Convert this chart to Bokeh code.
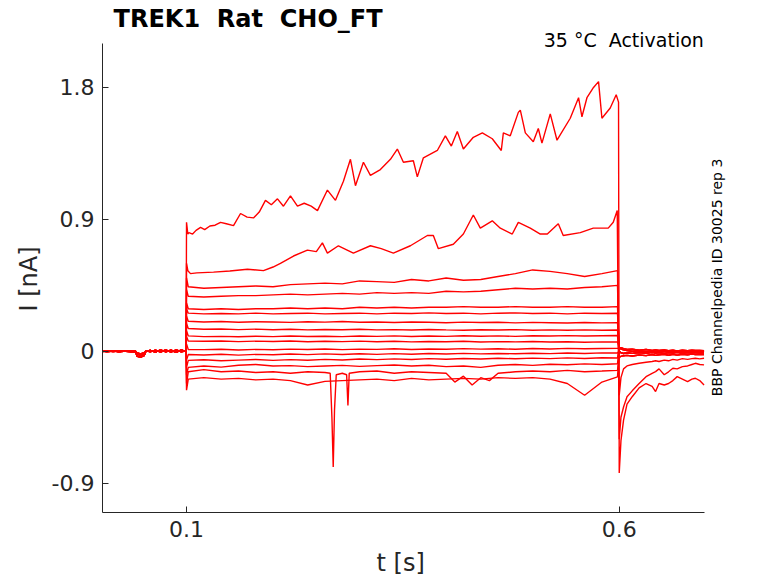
from math import pi

from bokeh.plotting import figure
from bokeh.models import ColumnDataSource, FixedTicker, Label, Range1d, Title
from bokeh.embed import file_html
from bokeh.resources import INLINE

# ---- sweeps of the activation protocol (t in s, I in nA) ----

# holding period before the step, three noise variants
PRE_T = [0.0029, 0.008, 0.015, 0.022, 0.03, 0.036, 0.041, 0.043, 0.047, 0.051,
         0.053, 0.058, 0.064, 0.07, 0.076, 0.082, 0.088, 0.094, 0.0995]
BASE_A = [0.0, 0.003, -0.002, 0.002, 0.0, -0.003, -0.002, -0.035, -0.04, -0.03,
          0.0, 0.005, -0.003, 0.006, -0.002, 0.008, -0.004, 0.006, 0.0]
BASE_B = [0.002, -0.003, 0.002, -0.002, 0.003, 0.0, 0.002, -0.02, -0.03, -0.022,
          0.004, -0.004, 0.008, -0.005, 0.01, -0.006, 0.009, -0.003, 0.004]
BASE_C = [-0.002, 0.001, 0.003, -0.003, 0.001, 0.002, -0.003, -0.012, -0.018, -0.01,
          -0.002, 0.006, -0.006, 0.01, -0.004, 0.006, -0.008, 0.01, -0.002]

# largest sweep
TOP_T = [0.1, 0.1015, 0.1027, 0.107, 0.111, 0.1162, 0.121, 0.127, 0.133, 0.1393,
         0.146, 0.1543, 0.1624, 0.17, 0.1774, 0.184, 0.1912, 0.198, 0.2051, 0.212,
         0.2201, 0.2282, 0.236, 0.244, 0.2513, 0.2628, 0.2721, 0.2813, 0.2894, 0.2952,
         0.3044, 0.3125, 0.324, 0.3356, 0.3436, 0.3506, 0.3621, 0.3667, 0.3737, 0.3898,
         0.3991, 0.406, 0.4129, 0.4199, 0.4314, 0.4418, 0.4533, 0.4637, 0.4661, 0.4741,
         0.4834, 0.4857, 0.4915, 0.5007, 0.5065, 0.5107, 0.5203, 0.5281, 0.5434, 0.553,
         0.5569, 0.5627, 0.5703, 0.5761, 0.58, 0.5896, 0.5965, 0.5992]
TOP_I = [0.88, 0.8, 0.81, 0.8, 0.825, 0.845, 0.83, 0.855, 0.86, 0.88,
         0.87, 0.857, 0.94, 0.915, 0.91, 0.95, 1.03, 1.0, 1.04, 0.99,
         1.06, 0.99, 1.01, 0.99, 0.96, 1.1, 1.03, 1.16, 1.31, 1.13,
         1.29, 1.2, 1.24, 1.31, 1.38, 1.29, 1.3, 1.19, 1.32, 1.37,
         1.47, 1.4, 1.5, 1.38, 1.46, 1.49, 1.45, 1.37, 1.49, 1.47,
         1.63, 1.645, 1.49, 1.43, 1.52, 1.42, 1.62, 1.44, 1.59, 1.73,
         1.6, 1.73, 1.8, 1.84, 1.59, 1.66, 1.75, 1.7]

# second largest sweep
SECOND_T = [0.1, 0.1015, 0.1046, 0.112, 0.1312, 0.15, 0.1704, 0.1889, 0.2, 0.2085,
            0.2236, 0.2397, 0.25, 0.257, 0.2628, 0.2755, 0.2928, 0.3125, 0.325, 0.339,
            0.3587, 0.3783, 0.3852, 0.391, 0.4083, 0.4199, 0.4314, 0.4395, 0.4533, 0.4626,
            0.4764, 0.4834, 0.4972, 0.5088, 0.5169, 0.5296, 0.5353, 0.555, 0.57, 0.5873,
            0.5931, 0.5977]
SECOND_I = [0.6, 0.55, 0.53, 0.535, 0.54, 0.548, 0.56, 0.55, 0.575, 0.6,
            0.65, 0.69, 0.68, 0.74, 0.67, 0.72, 0.67, 0.72, 0.7, 0.67,
            0.72, 0.79, 0.79, 0.7, 0.73, 0.8, 0.93, 0.84, 0.89, 0.84,
            0.8, 0.88, 0.84, 0.8, 0.8, 0.87, 0.79, 0.81, 0.84, 0.84,
            0.88, 0.96]

# the smaller sweeps share one time grid during the step
STEP_T = [0.1, 0.102, 0.12, 0.14, 0.16, 0.18, 0.2, 0.22, 0.24, 0.26, 0.28, 0.3, 0.32,
          0.34, 0.36, 0.38, 0.4, 0.42, 0.44, 0.46, 0.48, 0.5, 0.52, 0.54, 0.56, 0.58, 0.598]
STEP_03 = [0.5, 0.44, 0.43, 0.435, 0.44, 0.445, 0.44, 0.455, 0.46, 0.465, 0.46, 0.48, 0.475,
           0.47, 0.49, 0.48, 0.5, 0.485, 0.49, 0.51, 0.53, 0.555, 0.545, 0.53, 0.51, 0.53, 0.55]
STEP_04 = [0.42, 0.375, 0.37, 0.375, 0.38, 0.38, 0.385, 0.39, 0.385, 0.39, 0.395, 0.39, 0.4,
           0.395, 0.4, 0.395, 0.41, 0.405, 0.41, 0.42, 0.43, 0.425, 0.43, 0.425, 0.435, 0.44, 0.45]
STEP_05 = [0.33, 0.29, 0.285, 0.29, 0.285, 0.29, 0.29, 0.295, 0.29, 0.295, 0.29, 0.3, 0.295,
           0.3, 0.295, 0.3, 0.3, 0.305, 0.3, 0.3, 0.305, 0.3, 0.3, 0.305, 0.3, 0.3, 0.305]
STEP_06 = [0.29, 0.26, 0.255, 0.258, 0.255, 0.26, 0.255, 0.258, 0.26, 0.255, 0.258, 0.26, 0.255,
           0.26, 0.258, 0.262, 0.258, 0.26, 0.255, 0.26, 0.262, 0.258, 0.26, 0.255, 0.26, 0.258, 0.26]
STEP_07 = [0.24, 0.205, 0.2, 0.203, 0.198, 0.202, 0.2, 0.197, 0.201, 0.199, 0.203, 0.198, 0.2,
           0.196, 0.2, 0.198, 0.195, 0.199, 0.196, 0.198, 0.194, 0.197, 0.195, 0.193, 0.196, 0.194, 0.195]
STEP_08 = [0.19, 0.155, 0.15, 0.152, 0.148, 0.151, 0.147, 0.15, 0.146, 0.149, 0.147, 0.15, 0.146,
           0.148, 0.145, 0.149, 0.146, 0.144, 0.147, 0.145, 0.148, 0.144, 0.146, 0.143, 0.146, 0.144, 0.145]
STEP_09 = [0.14, 0.105, 0.1, 0.102, 0.099, 0.103, 0.1, 0.104, 0.101, 0.103, 0.1, 0.104, 0.102,
           0.105, 0.101, 0.104, 0.102, 0.106, 0.103, 0.105, 0.102, 0.106, 0.104, 0.107, 0.104, 0.106, 0.108]
STEP_10 = [0.1, 0.07, 0.068, 0.07, 0.066, 0.069, 0.067, 0.07, 0.065, 0.068, 0.066, 0.069, 0.065,
           0.068, 0.064, 0.067, 0.065, 0.068, 0.063, 0.066, 0.064, 0.067, 0.063, 0.065, 0.062, 0.064, 0.063]
STEP_11 = [0.05, 0.012, 0.011, 0.014, 0.009, 0.013, 0.01, 0.015, 0.012, 0.016, 0.011, 0.015, 0.013,
           0.017, 0.012, 0.016, 0.014, 0.018, 0.015, 0.017, 0.014, 0.019, 0.016, 0.02, 0.017, 0.019, 0.02]
STEP_12 = [-0.06, -0.022, -0.025, -0.02, -0.026, -0.021, -0.024, -0.019, -0.023, -0.018, -0.022,
           -0.017, -0.021, -0.016, -0.02, -0.015, -0.019, -0.014, -0.018, -0.015, -0.017, -0.013,
           -0.016, -0.012, -0.015, -0.011, -0.012]
STEP_13 = [-0.11, -0.062, -0.058, -0.065, -0.06, -0.056, -0.062, -0.057, -0.061, -0.055, -0.059,
           -0.053, -0.057, -0.052, -0.056, -0.05, -0.054, -0.049, -0.053, -0.048, -0.051, -0.047,
           -0.05, -0.045, -0.049, -0.044, -0.046]
STEP_14 = [-0.16, -0.11, -0.1, -0.108, -0.095, -0.09, -0.1, -0.098, -0.105, -0.1, -0.096, -0.103,
           -0.098, -0.094, -0.1, -0.095, -0.105, -0.1, -0.11, -0.095, -0.09, -0.096, -0.088, -0.092,
           -0.086, -0.09, -0.085]
STEP_16 = [-0.265, -0.19, -0.18, -0.19, -0.185, -0.195, -0.19, -0.2, -0.23, -0.205, -0.2, -0.195,
           -0.19, -0.2, -0.185, -0.195, -0.19, -0.185, -0.19, -0.18, -0.185, -0.18, -0.19, -0.22,
           -0.3, -0.21, -0.175]

# sweep with the two sharp downward events
T15_T = [0.1, 0.102, 0.12, 0.14, 0.16, 0.18, 0.2, 0.22, 0.24, 0.26, 0.266, 0.268, 0.2695, 0.271,
         0.273, 0.28, 0.285, 0.2865, 0.288, 0.3, 0.32, 0.34, 0.36, 0.38, 0.4, 0.41, 0.42, 0.43,
         0.44, 0.45, 0.46, 0.48, 0.5, 0.52, 0.54, 0.56, 0.58, 0.598]
T15_I = [-0.22, -0.14, -0.125, -0.14, -0.135, -0.145, -0.14, -0.15, -0.14, -0.145, -0.15, -0.45,
         -0.79, -0.4, -0.16, -0.15, -0.16, -0.37, -0.15, -0.14, -0.135, -0.15, -0.14, -0.145,
         -0.15, -0.21, -0.17, -0.23, -0.18, -0.2, -0.15, -0.14, -0.135, -0.14, -0.13, -0.14,
         -0.135, -0.13]

# tail currents after the step
TAIL_T = [0.6, 0.602, 0.605, 0.609, 0.615, 0.623, 0.631, 0.638, 0.642, 0.646, 0.652, 0.657,
          0.662, 0.667, 0.673, 0.679, 0.684, 0.688, 0.693, 0.698]
TAIL_TOP = [-0.83, -0.61, -0.47, -0.36, -0.31, -0.25, -0.22, -0.24, -0.275, -0.22, -0.23, -0.22,
            -0.2, -0.173, -0.19, -0.207, -0.19, -0.184, -0.2, -0.23]
TAIL_SECOND = [-0.6, -0.45, -0.38, -0.31, -0.27, -0.22, -0.173, -0.15, -0.139, -0.12, -0.16, -0.14,
               -0.116, -0.12, -0.105, -0.1, -0.09, -0.082, -0.09, -0.093]
TAIL_03 = [-0.3, -0.18, -0.12, -0.1, -0.09, -0.082, -0.075, -0.07, -0.065, -0.07, -0.06, -0.065,
           -0.055, -0.06, -0.05, -0.055, -0.05, -0.048, -0.052, -0.048]
TAIL_F1 = [0.03, 0.015, 0.01, 0.005, 0.0, 0.004, -0.003, 0.002, -0.004, 0.003, -0.002, 0.004,
           -0.003, 0.002, -0.004, 0.003, -0.002, 0.003, -0.003, 0.0]
TAIL_F2 = [0.0, -0.01, -0.015, -0.01, -0.014, -0.008, -0.013, -0.007, -0.012, -0.008, -0.014,
           -0.009, -0.012, -0.007, -0.013, -0.009, -0.012, -0.008, -0.011, -0.01]
TAIL_F3 = [-0.04, -0.035, -0.03, -0.028, -0.032, -0.025, -0.03, -0.022, -0.028, -0.024, -0.02,
           -0.027, -0.021, -0.026, -0.02, -0.024, -0.019, -0.023, -0.02, -0.022]
TAIL_F4 = [0.02, 0.025, 0.018, 0.012, 0.015, 0.008, 0.012, 0.006, 0.01, 0.005, 0.009, 0.004,
           0.008, 0.003, 0.007, 0.004, 0.008, 0.005, 0.006, 0.004]

Y_TICKS = [-0.9, 0, 0.9, 1.8]
X_TICKS = [0.1, 0.6]

# (baseline, step times, step values, tail) for every sweep
sweeps = [
    (BASE_A, TOP_T, TOP_I, TAIL_TOP),
    (BASE_B, SECOND_T, SECOND_I, TAIL_SECOND),
    (BASE_C, STEP_T, STEP_03, TAIL_03),
    (BASE_A, STEP_T, STEP_04, TAIL_F3),
    (BASE_B, STEP_T, STEP_05, TAIL_F2),
    (BASE_C, STEP_T, STEP_06, TAIL_F1),
    (BASE_A, STEP_T, STEP_07, TAIL_F4),
    (BASE_B, STEP_T, STEP_08, TAIL_F2),
    (BASE_C, STEP_T, STEP_09, TAIL_F3),
    (BASE_A, STEP_T, STEP_10, TAIL_F1),
    (BASE_B, STEP_T, STEP_11, TAIL_F4),
    (BASE_C, STEP_T, STEP_12, TAIL_F2),
    (BASE_A, STEP_T, STEP_13, TAIL_F1),
    (BASE_B, STEP_T, STEP_14, TAIL_F4),
    (BASE_C, T15_T, T15_I, TAIL_F3),
    (BASE_A, STEP_T, STEP_16, TAIL_F2),
]

xs, ys = [], []
for base, st, si, tail in sweeps:
    xs.append(PRE_T + st + TAIL_T)
    ys.append(base + si + tail)
source = ColumnDataSource(data=dict(xs=xs, ys=ys))

FONT = "DejaVu Sans"
INK = "#262626"

# axes limits as in the original; the frame is larger so the texts around it are not clipped
X_LIM = (0.0029, 0.6989)
Y_LIM = (-1.1, 2.1)

p = figure(
    width=770,
    height=583,
    x_range=Range1d(X_LIM[0], 0.7748),
    y_range=Range1d(Y_LIM[0], 2.3934),
    output_backend="svg",
    toolbar_location=None,
    min_border_left=102,
    min_border_right=0,
    min_border_top=0,
    min_border_bottom=70,
)
p.multi_line("xs", "ys", source=source, line_color="#ff0000", line_width=1.4)

p.grid.visible = False
p.outline_line_color = None
p.background_fill_color = "white"
p.border_fill_color = "white"

for ax in (p.xaxis[0], p.yaxis[0]):
    ax.axis_line_color = INK
    ax.major_tick_line_color = INK
    ax.major_tick_in = 6
    ax.major_tick_out = 0
    ax.minor_tick_line_color = None
    ax.major_label_text_font = FONT
    ax.major_label_text_font_size = "22px"
    ax.major_label_text_color = INK
    ax.major_label_standoff = 8

p.xaxis.bounds = X_LIM
p.yaxis.bounds = Y_LIM
p.xaxis.ticker = FixedTicker(ticks=X_TICKS)
p.yaxis.ticker = FixedTicker(ticks=Y_TICKS)
p.yaxis.major_label_overrides = {t: ("0" if t == 0 else str(t)) for t in Y_TICKS}

# axis titles, placed under the middle of the drawn axes (not of the wider frame)
p.add_layout(Title(text="t [s]", align="left", offset=274, standoff=14, text_font=FONT,
                   text_font_size="24px", text_font_style="normal", text_color=INK), "below")
p.add_layout(Title(text="I [nA]", align="left", offset=201, standoff=12, text_font=FONT,
                   text_font_size="24px", text_font_style="normal", text_color=INK), "left")

p.add_layout(Label(x=0.0157, y=2.27, text="TREK1\u00a0 Rat\u00a0 CHO_FT", text_font=FONT,
                   text_font_size="24px", text_font_style="bold", text_color="black",
                   text_baseline="alphabetic"))
p.add_layout(Label(x=0.6978, y=2.1217, text="35 °C\u00a0 Activation", text_font=FONT,
                   text_font_size="19px", text_color="black", text_align="right",
                   text_baseline="alphabetic"))
p.add_layout(Label(x=0.7130, y=0.5037, text="BBP Channelpedia ID 30025 rep 3", text_font=FONT,
                   text_font_size="14px", text_color="black", text_align="center",
                   text_baseline="alphabetic", angle=pi / 2))

open("out.html", "w").write(file_html(p, INLINE))
